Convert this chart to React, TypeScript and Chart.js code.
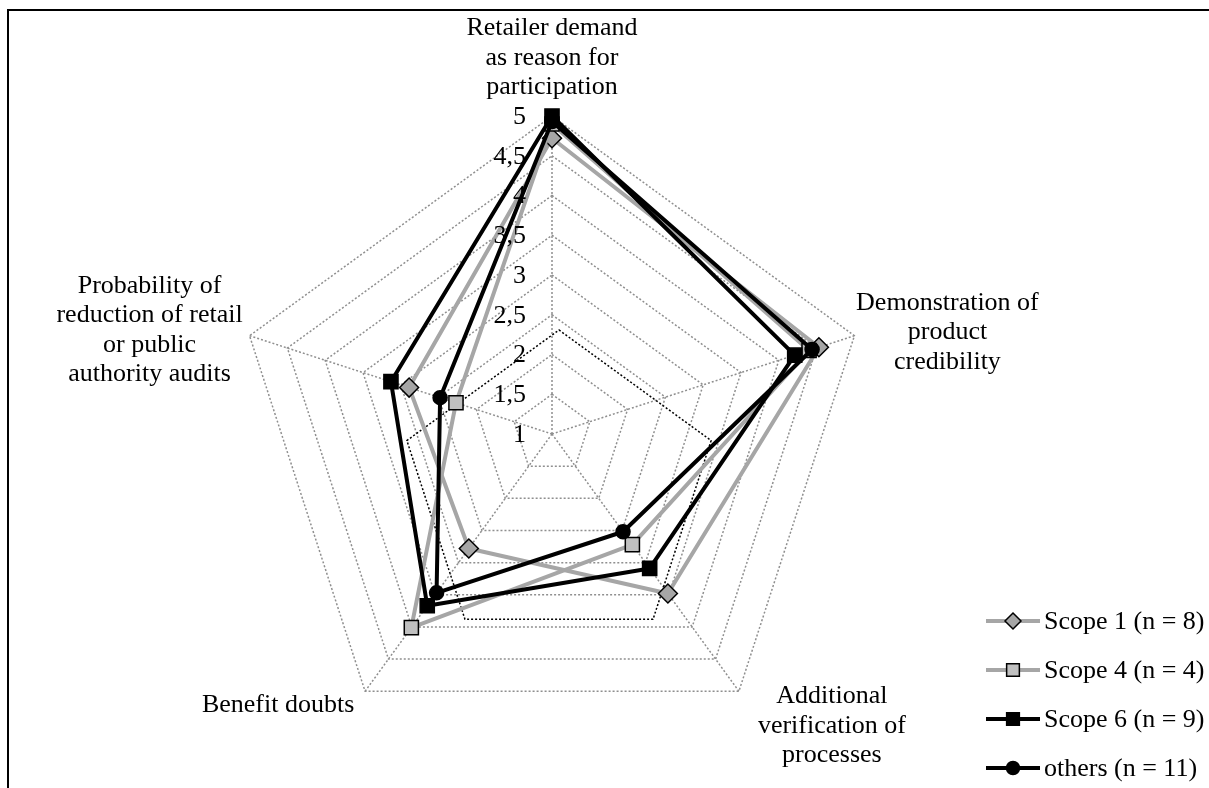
import React, { useEffect, useRef } from 'react';
import { Chart, registerables } from 'chart.js';

Chart.register(...registerables);

// ---------- data ----------
const CATEGORIES: string[][] = [
  ['Retailer demand', 'as reason for', 'participation'],
  ['Demonstration of', 'product', 'credibility'],
  ['Additional', 'verification of', 'processes'],
  ['Benefit doubts'],
  ['Probability of', 'reduction of retail', 'or public', 'authority audits'],
];

const SERIES_LABELS = ['Scope 1 (n = 8)', 'Scope 4 (n = 4)', 'Scope 6 (n = 9)', 'others (n = 11)'];

const SCOPE1 = [4.72, 4.53, 3.48, 2.78, 2.89];
const SCOPE4 = [4.9, 4.4, 2.72, 4.01, 2.27];
const SCOPE6 = [5.0, 4.21, 3.09, 3.67, 3.13];
const OTHERS = [4.93, 4.44, 2.52, 3.47, 2.48];

const TICK_LABELS = ['1', '1,5', '2', '2,5', '3', '3,5', '4', '4,5', '5'];

// ---------- styles ----------
const FONT = '"Liberation Serif", "Times New Roman", serif';
const GRID_COLOR = '#8f8f8f';
const GREY = '#a6a6a6';

// label block: offset of first baseline / centre x from the axis end point
const LABEL_OFFSETS = [
  { dx: 0, dy: -81 },
  { dx: 93, dy: -26 },
  { dx: 93, dy: 12 },
  { dx: -87, dy: 21 },
  { dx: -100, dy: -43 },
];
const LABEL_LINE_HEIGHT = 29.5;

// dotted annotation pentagon (relative to radar radius)
const NOTE_SHAPE = { dx: 0.022, dy: 0.176, r: 0.503 };

function drawMarker(
  ctx: CanvasRenderingContext2D,
  style: string,
  x: number,
  y: number,
  r: number,
  fill: string,
  stroke: string,
  bw: number
) {
  ctx.save();
  ctx.beginPath();
  if (style === 'circle') {
    ctx.arc(x, y, r, 0, Math.PI * 2);
  } else if (style === 'rectRot') {
    ctx.moveTo(x, y - r);
    ctx.lineTo(x + r, y);
    ctx.lineTo(x, y + r);
    ctx.lineTo(x - r, y);
    ctx.closePath();
  } else {
    const h = r * Math.SQRT1_2;
    ctx.rect(x - h, y - h, 2 * h, 2 * h);
  }
  ctx.fillStyle = fill;
  ctx.fill();
  ctx.setLineDash([]);
  ctx.lineWidth = bw;
  ctx.strokeStyle = stroke;
  ctx.stroke();
  ctx.restore();
}

const decorPlugin = {
  id: 'decor',
  beforeDatasetsDraw(chart: any) {
    const s = chart.scales.r;
    const ctx: CanvasRenderingContext2D = chart.ctx;
    const R = s.drawingArea;
    const cx = s.xCenter + NOTE_SHAPE.dx * R;
    const cy = s.yCenter + NOTE_SHAPE.dy * R;
    const r = NOTE_SHAPE.r * R;
    ctx.save();
    ctx.beginPath();
    for (let i = 0; i < 5; i++) {
      const a = -Math.PI / 2 + (i * 2 * Math.PI) / 5;
      const x = cx + r * Math.cos(a);
      const y = cy + r * Math.sin(a);
      if (i === 0) ctx.moveTo(x, y);
      else ctx.lineTo(x, y);
    }
    ctx.closePath();
    ctx.setLineDash([2, 2]);
    ctx.lineWidth = 1.5;
    ctx.strokeStyle = '#000';
    ctx.stroke();
    ctx.restore();
  },
  afterDraw(chart: any) {
    const s = chart.scales.r;
    const ctx: CanvasRenderingContext2D = chart.ctx;
    ctx.save();
    ctx.fillStyle = '#000';
    // tick labels
    ctx.font = `26px ${FONT}`;
    ctx.textAlign = 'right';
    ctx.textBaseline = 'middle';
    s.ticks.forEach((t: any, i: number) => {
      const d = s.getDistanceFromCenterForValue(t.value);
      ctx.fillText(TICK_LABELS[i] ?? String(t.value), s.xCenter - 26, s.yCenter - d + 1);
    });
    // category labels
    ctx.textAlign = 'center';
    ctx.textBaseline = 'alphabetic';
    CATEGORIES.forEach((lines, i) => {
      const p = s.getPointPosition(i, s.drawingArea);
      const o = LABEL_OFFSETS[i];
      lines.forEach((ln, k) => {
        ctx.fillText(ln, p.x + o.dx, p.y + o.dy + k * LABEL_LINE_HEIGHT);
      });
    });
    // legend
    const lx = chart.width - 223;
    const ly0 = 621;
    const step = 49;
    chart.data.datasets.forEach((ds: any, i: number) => {
      const y = ly0 + i * step;
      ctx.save();
      ctx.beginPath();
      ctx.moveTo(lx, y);
      ctx.lineTo(lx + 54, y);
      ctx.strokeStyle = ds.borderColor;
      ctx.lineWidth = ds.borderWidth;
      ctx.stroke();
      ctx.restore();
      drawMarker(
        ctx,
        ds.pointStyle,
        lx + 27,
        y,
        ds.pointStyle === 'rectRot' ? 8 : ds.pointStyle === 'circle' ? 6.5 : 9,
        ds.pointBackgroundColor,
        ds.pointBorderColor,
        ds.pointBorderWidth
      );
      ctx.font = `26px ${FONT}`;
      ctx.textAlign = 'left';
      ctx.textBaseline = 'middle';
      ctx.fillStyle = '#000';
      ctx.fillText(ds.label, lx + 58, y + 1);
    });
    ctx.restore();
  },
};

export default function App() {
  const ref = useRef<HTMLCanvasElement | null>(null);

  useEffect(() => {
    if (!ref.current) return;
    const common = { borderWidth: 4, fill: false, tension: 0, backgroundColor: 'transparent', borderJoinStyle: 'round' as const, pointBorderColor: '#000', pointBorderWidth: 1.5 };
    const chart = new Chart(ref.current, {
      type: 'radar',
      data: {
        labels: CATEGORIES.map((c) => c.join(' ')),
        datasets: [
          { ...common, label: SERIES_LABELS[0], data: SCOPE1, borderColor: GREY, pointStyle: 'rectRot', pointRadius: 9.5, pointBackgroundColor: GREY, order: 4 },
          { ...common, label: SERIES_LABELS[1], data: SCOPE4, borderColor: GREY, pointStyle: 'rect', pointRadius: 10, pointBackgroundColor: '#c0c0c0', order: 3 },
          { ...common, label: SERIES_LABELS[2], data: SCOPE6, borderColor: '#000', pointStyle: 'rect', pointRadius: 10, pointBackgroundColor: '#000', order: 2 },
          { ...common, label: SERIES_LABELS[3], data: OTHERS, borderColor: '#000', pointStyle: 'circle', pointRadius: 7, pointBackgroundColor: '#000', order: 1 },
        ],
      },
      options: {
        responsive: false,
        animation: false,
        layout: { padding: { left: 234, right: 339, top: 116, bottom: 36 } },
        plugins: { legend: { display: false }, tooltip: { enabled: false } },
        scales: {
          r: {
            min: 1,
            max: 5,
            ticks: { stepSize: 0.5, display: false },
            pointLabels: { display: false },
            grid: { color: GRID_COLOR, lineWidth: 1.5 },
            border: { dash: [2, 2] },
            angleLines: { color: GRID_COLOR, lineWidth: 1.5, borderDash: [2, 2] },
          },
        },
      } as any,
      plugins: [decorPlugin],
    });
    return () => chart.destroy();
  }, []);

  return (
    <>
      <div
        style={{
          position: 'fixed',
          left: 7,
          top: 9,
          width: 1400,
          height: 1000,
          borderTop: '2px solid #000',
          borderLeft: '2px solid #000',
          boxSizing: 'border-box',
        }}
      />
      <canvas
        ref={ref}
        width={1209}
        height={788}
        style={{ position: 'fixed', left: 0, top: 0, width: 1209, height: 788 }}
      />
    </>
  );
}
